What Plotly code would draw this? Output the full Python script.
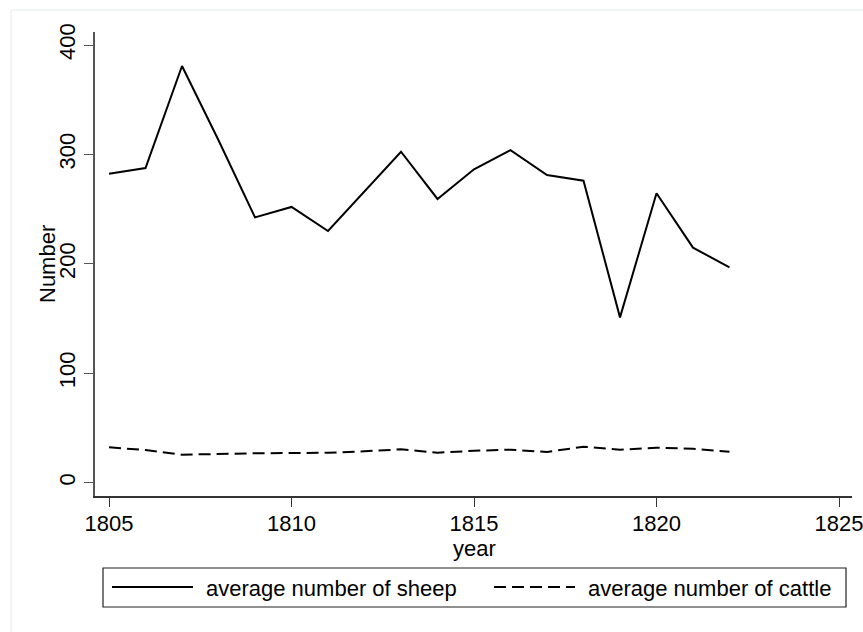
import plotly.graph_objects as go

# Average herd sizes per farm, 1805-1822
years = list(range(1805, 1823))
sheep = [282.4, 287.6, 380.8, 313.0, 242.5, 252.0, 230.0, 266.0, 302.5,
         259.3, 286.4, 304.0, 281.2, 276.0, 151.1, 264.5, 214.8, 196.8]
cattle = [32.3, 29.9, 25.6, 26.5, 26.9, 27.1, 27.4, 28.7, 30.5,
          27.4, 29.2, 30.2, 28.1, 32.9, 30.2, 32.0, 31.1, 28.3]

x_ticks = [1805, 1810, 1815, 1820, 1825]
y_ticks = [0, 100, 200, 300, 400]
sheep_label = "average number of sheep"
cattle_label = "average number of cattle"

FONT = "Liberation Sans, Arial, sans-serif"
FS = 22
DASH = "12px,6px"

fig = go.Figure()
fig.add_trace(go.Scatter(x=years, y=sheep, mode="lines", name=sheep_label,
                         line=dict(color="black", width=2), showlegend=False))
fig.add_trace(go.Scatter(x=years, y=cattle, mode="lines", name=cattle_label,
                         line=dict(color="black", width=2, dash=DASH),
                         showlegend=False))

# Plot area spans 757 x 464 px; paper-coordinate helpers
L, T, W, H = 95, 32, 757, 464


def px_x(p):
    return (p - L) / W


def px_y(p):
    return (T + H - p) / H


shapes = [
    # light outer frame of the graph region
    dict(type="rect", xref="paper", yref="paper",
         x0=px_x(11), x1=px_x(880), y0=px_y(650), y1=px_y(10),
         line=dict(color="#e4ecee", width=1), layer="below"),
    # legend box
    dict(type="rect", xref="paper", yref="paper",
         x0=px_x(103), x1=px_x(846), y0=px_y(607), y1=px_y(568),
         line=dict(color="#222", width=1.2)),
    # legend keys
    dict(type="line", xref="paper", yref="paper",
         x0=px_x(112), x1=px_x(193), y0=px_y(587), y1=px_y(587),
         line=dict(color="black", width=2)),
    dict(type="line", xref="paper", yref="paper",
         x0=px_x(494), x1=px_x(575), y0=px_y(587), y1=px_y(587),
         line=dict(color="black", width=2, dash=DASH)),
]

annotations = [
    dict(text="Number", xref="paper", yref="paper", x=px_x(47), y=0.5,
         textangle=-90, showarrow=False, xanchor="center", yanchor="middle",
         font=dict(size=FS, color="black", family=FONT)),
    dict(text="year", xref="paper", yref="paper", x=px_x(474), y=px_y(548),
         showarrow=False, xanchor="center", yanchor="middle",
         font=dict(size=FS, color="black", family=FONT)),
    dict(text=sheep_label, xref="paper", yref="paper", x=px_x(204), y=px_y(588),
         showarrow=False, xanchor="left", yanchor="middle",
         font=dict(size=FS, color="black", family=FONT)),
    dict(text=cattle_label, xref="paper", yref="paper", x=px_x(586), y=px_y(588),
         showarrow=False, xanchor="left", yanchor="middle",
         font=dict(size=FS, color="black", family=FONT)),
]

fig.update_layout(
    width=863, height=632,
    margin=dict(l=L, r=863 - L - W, t=T, b=632 - T - H, pad=0),
    paper_bgcolor="white", plot_bgcolor="white",
    font=dict(family=FONT, size=FS, color="black"),
    showlegend=False,
    shapes=shapes,
    annotations=annotations,
    xaxis=dict(range=[1804.616, 1825.356], tickvals=x_ticks,
               ticks="outside", ticklen=9, tickwidth=1.3, tickcolor="#333",
               showline=True, linecolor="#333", linewidth=1.5,
               showgrid=False, zeroline=False, fixedrange=True,
               automargin=False,
               ticklabeloverflow="allow", ticklabelstandoff=-2,
               tickfont=dict(size=FS, color="black", family=FONT)),
    yaxis=dict(range=[-12.15, 411.9], tickvals=y_ticks,
               ticks="outside", ticklen=9, tickwidth=1.3, tickcolor="#555",
               showline=True, linecolor="#555", linewidth=1.8,
               showgrid=False, zeroline=False, fixedrange=True,
               automargin=False,
               tickangle=-90,
               tickfont=dict(size=FS, color="black", family=FONT)),
)

fig.write_html("out.html")
